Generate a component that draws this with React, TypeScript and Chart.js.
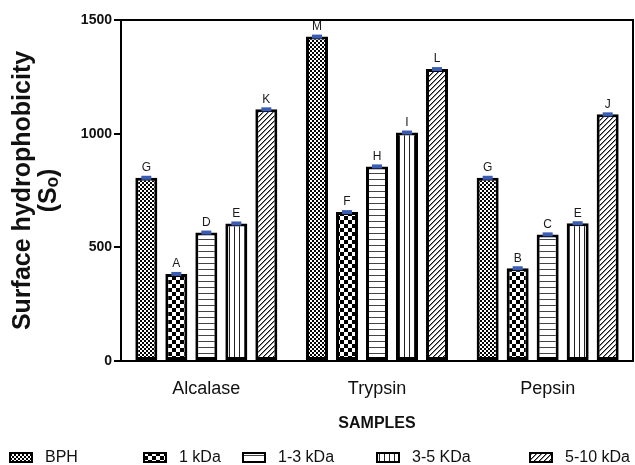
import React, { useEffect, useRef } from 'react';
import { Chart, registerables } from 'chart.js';

Chart.register(...registerables);

const categories = ['Alcalase', 'Trypsin', 'Pepsin'];
const seriesLabels = ['BPH', '1 kDa', '1-3 kDa', '3-5 KDa', '5-10 kDa'];
const bphValues = [806, 1427, 806];
const kDa1Values = [383, 655, 408];
const kDa1to3Values = [565, 856, 557];
const kDa3to5Values = [605, 1005, 606];
const kDa5to10Values = [1107, 1284, 1085];
const bphLetters = ['G', 'M', 'G'];
const kDa1Letters = ['A', 'F', 'B'];
const kDa1to3Letters = ['D', 'H', 'C'];
const kDa3to5Letters = ['E', 'I', 'E'];
const kDa5to10Letters = ['K', 'L', 'J'];
const yTicks = [0, 500, 1000, 1500];

const FONT = '"Liberation Sans", Arial, Helvetica, sans-serif';

function makeTile(w: number, h: number, draw: (g: CanvasRenderingContext2D) => void) {
  const c = document.createElement('canvas');
  c.width = w;
  c.height = h;
  const g = c.getContext('2d')!;
  g.fillStyle = '#ffffff';
  g.fillRect(0, 0, w, h);
  draw(g);
  return c;
}

function buildPatterns(ctx: CanvasRenderingContext2D) {
  const fine = makeTile(4, 4, (g) => {
    g.fillStyle = '#000';
    g.fillRect(0, 0, 2, 2);
    g.fillRect(2, 2, 2, 2);
  });
  const coarse = makeTile(8, 8, (g) => {
    g.fillStyle = '#000';
    g.fillRect(0, 0, 4, 4);
    g.fillRect(4, 4, 4, 4);
  });
  const hlines = makeTile(6, 6, (g) => {
    g.fillStyle = '#444';
    g.fillRect(0, 5, 6, 1);
  });
  const vlines = makeTile(5, 5, (g) => {
    g.fillStyle = '#222';
    g.fillRect(4, 0, 1, 5);
  });
  const diag = makeTile(5, 5, (g) => {
    for (let i = 0; i < 5; i++) {
      g.fillStyle = '#111';
      g.fillRect(4 - i, i, 1, 1);
      g.fillStyle = '#888';
      g.fillRect((5 - i) % 5, i, 1, 1);
    }
  });
  return [fine, coarse, hlines, vlines, diag].map((t) => ctx.createPattern(t, 'repeat')!);
}

export default function App() {
  const ref = useRef<HTMLCanvasElement | null>(null);

  useEffect(() => {
    const canvas = ref.current!;
    const ctx = canvas.getContext('2d')!;
    const patterns = buildPatterns(ctx);
    const values = [bphValues, kDa1Values, kDa1to3Values, kDa3to5Values, kDa5to10Values];
    const letters = [bphLetters, kDa1Letters, kDa1to3Letters, kDa3to5Letters, kDa5to10Letters];

    const decorations = {
      id: 'decorations',
      afterDatasetsDraw(chart: any) {
        const c = chart.ctx;
        c.save();
        chart.data.datasets.forEach((ds: any, di: number) => {
          const meta = chart.getDatasetMeta(di);
          meta.data.forEach((bar: any, i: number) => {
            const { x, y } = bar.getProps(['x', 'y'], true);
            c.fillStyle = '#3b5cb3';
            c.fillRect(x - 5, y - 2, 10, 4);
            c.fillStyle = '#1a1a1a';
            c.font = `12px ${FONT}`;
            c.textAlign = 'center';
            c.textBaseline = 'bottom';
            c.fillText(letters[di][i], x, y - 4);
          });
        });
        c.restore();
      },
      afterDraw(chart: any) {
        const c = chart.ctx;
        const a = chart.chartArea;
        c.save();
        c.strokeStyle = '#000';
        c.lineWidth = 2;
        c.beginPath();
        c.moveTo(a.left, a.top);
        c.lineTo(a.right, a.top);
        c.lineTo(a.right, a.bottom);
        c.stroke();
        // legend
        const legendX = [9, 143, 242, 376, 529];
        const legendY = 452;
        chart.data.datasets.forEach((ds: any, di: number) => {
          const lx = legendX[di];
          c.fillStyle = patterns[di];
          c.fillRect(lx, legendY, 24, 11);
          c.lineWidth = 2;
          c.strokeStyle = '#000';
          c.strokeRect(lx + 1, legendY + 1, 22, 9);
          c.fillStyle = '#111';
          c.font = `16px ${FONT}`;
          c.textAlign = 'left';
          c.textBaseline = 'middle';
          c.fillText(ds.label, lx + 36, legendY + 6);
        });
        c.restore();
      },
    };

    const chart = new Chart(canvas, {
      type: 'bar',
      data: {
        labels: categories,
        datasets: seriesLabels.map((label, i) => ({
          label,
          data: values[i],
          backgroundColor: patterns[i],
          borderColor: '#000',
          borderWidth: 3,
          borderSkipped: false,
          categoryPercentage: 0.879,
          barPercentage: 0.733,
        })),
      },
      options: {
        responsive: false,
        animation: false,
        devicePixelRatio: 1,
        layout: { padding: { top: 20, right: 2, left: 0, bottom: 32 } },
        plugins: {
          legend: { display: false },
          tooltip: { enabled: false },
        },
        scales: {
          x: {
            afterFit: (s: any) => { s.height = 72; },
            grid: { display: false },
            border: { display: true, color: '#000', width: 2 },
            ticks: { color: '#111', padding: 9, font: { family: FONT, size: 18 } },
            title: {
              display: true,
              text: 'SAMPLES',
              color: '#111',
              padding: 0,
              font: { family: FONT, size: 16, weight: 'bold' },
            },
          },
          y: {
            min: 0,
            max: 1500,
            afterFit: (s: any) => { s.width = 121; },
            afterBuildTicks: (s: any) => { s.ticks = yTicks.map((v) => ({ value: v })); },
            grid: {
              display: true,
              drawOnChartArea: false,
              drawTicks: true,
              tickLength: 7,
              color: '#000',
              lineWidth: 2,
            },
            border: { display: true, color: '#000', width: 2 },
            ticks: {
              color: '#111',
              padding: 2,
              font: { family: FONT, size: 14, weight: 'bold' },
              callback: (v: any) => String(v),
            },
            title: {
              display: true,
              text: ['Surface hydrophobicity', '(S\u2092)'],
              color: '#111',
              padding: { top: 10, bottom: 0 },
              font: { family: FONT, size: 25, weight: 'bold', lineHeight: 1.04 },
            },
          },
        },
      },
      plugins: [decorations],
    });
    return () => chart.destroy();
  }, []);

  return (
    <div style={{ position: 'absolute', left: 0, top: 0, width: 635, height: 465, background: '#fff' }}>
      <canvas ref={ref} width={635} height={465} style={{ display: 'block' }} />
    </div>
  );
}
